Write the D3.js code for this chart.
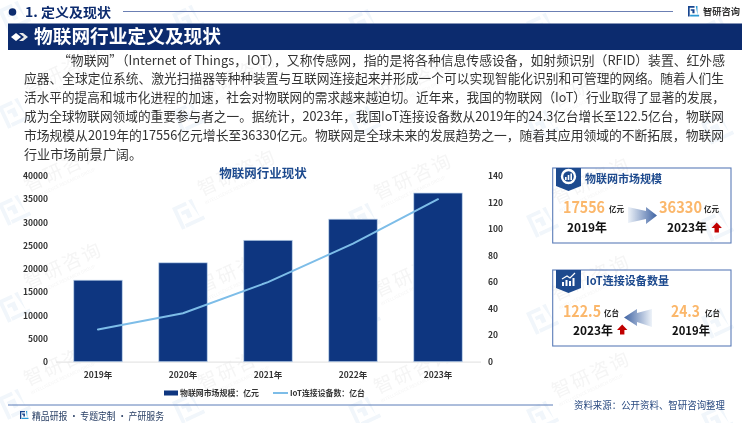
<!DOCTYPE html>
<html lang="zh-CN"><head><meta charset="utf-8">
<script src="https://cdnjs.cloudflare.com/ajax/libs/d3/7.8.5/d3.min.js"></script>
<style>html,body{margin:0;padding:0;background:#fff}svg{display:block}text{font-family:"Noto Sans CJK SC","Noto Sans",sans-serif}</style>
</head><body><svg id="c" width="750" height="423" viewBox="0 0 750 423"></svg>
<script>
const years=["2019年","2020年","2021年","2022年","2023年"];
const marketSize=[17556,21300,26150,30700,36330];
const iotDevices=[24.3,36.5,60,89,122.5];
const leftTicks=[0,5000,10000,15000,20000,25000,30000,35000,40000];
const rightTicks=[0,20,40,60,80,100,120,140];
const wide=s=>s.replace(/,/g,"\uFF0C").replace(/\(/g,"\uFF08").replace(/\)/g,"\uFF09").replace(/:/g,"\uFF1A");
const seriesNames=["物联网市场规模:亿元","IoT连接设备数:亿台"].map(wide);
const bodyLines=[
"“物联网”(Internet of Things,IOT),又称传感网,指的是将各种信息传感设备,如射频识别(RFID)装置、红外感",
"应器、全球定位系统、激光扫描器等种种装置与互联网连接起来并形成一个可以实现智能化识别和可管理的网络。随着人们生",
"活水平的提高和城市化进程的加速,社会对物联网的需求越来越迫切。近年来,我国的物联网(IoT)行业取得了显著的发展,",
"成为全球物联网领域的重要参与者之一。据统计,2023年,我国IoT连接设备数从2019年的24.3亿台增长至122.5亿台,物联网",
"市场规模从2019年的17556亿元增长至36330亿元。物联网是全球未来的发展趋势之一,随着其应用领域的不断拓展,物联网",
"行业市场前景广阔。"].map(wide);
const bodyX=[58,24,24,24,24,24], bodyW=[667,700,701,700,700,118], bodyY=[64.5,83,102,121,139.5,158.5];

const navy="#0c2b6e",barBlue="#0e3680",lineBlue="#7dbde8",frame="#5b7cb8",orange="#fbb76b";
const svg=d3.select("#c");
const defs=svg.append("defs");
function grad(id,x1,x2){const g=defs.append("linearGradient").attr("id",id).attr("x1",x1).attr("x2",x2).attr("y1",0).attr("y2",0);
 g.append("stop").attr("offset",0).attr("stop-color","#eef3f9");g.append("stop").attr("offset",1).attr("stop-color","#3f63a3");}
grad("gr",0,1);grad("gl",1,0);

function txt(s,x,y,size,fill,weight,anchor,len){const t=svg.append("text").attr("x",x).attr("y",y).attr("font-size",size).attr("fill",fill).attr("font-weight",weight||400).attr("text-anchor",anchor||"start").text(s);
 if(len)t.attr("textLength",len).attr("lengthAdjust","spacingAndGlyphs");return t;}

// watermarks
const wmLayer=svg.append("g").attr("opacity",.5);
function logoMark(g,s,c1,c2){
 g.append("path").attr("d",`M0 0H${s*.62}V${s*.16}H${s*.16}V${s}H0Z`).attr("fill",c1);
 g.append("path").attr("d",`M${s*.26} ${s*.3}H${s*.62}V${s*.68}H${s*.42}V${s*.46}H${s*.26}Z`).attr("fill",c1);
 g.append("path").attr("d",`M${s*.74} 0H${s*.9}V${s*.84}H${s*.2}V${s}H${s*1.06}V${s*.84}H${s*.9}Z`).attr("fill",c2);
}
const wmX=[-2,172,348,526,701],wmY=[10,107,204,301,398];
wmY.forEach((y,j)=>wmX.forEach((x,i)=>{
 const g=wmLayer.append("g").attr("transform",`translate(${x},${y+i*4}) rotate(-25)`);
 logoMark(g,24,"#e3edf6","#e3edf6");
 if(j>0&&i<4){
  g.append("text").attr("x",32).attr("y",2).attr("font-size",19).attr("fill","#ebebeb").attr("letter-spacing",2).text("智研咨询");
  g.append("text").attr("x",32).attr("y",11).attr("font-size",4.5).attr("fill","#ebebeb").text("INTELLIGENCE RESEARCH GROUP");
 }
}));

// header
svg.append("circle").attr("cx",12.5).attr("cy",12).attr("r",3.8).attr("fill",navy);
txt("1. 定义及现状",25,17,13,navy,700,"start",86);
svg.append("line").attr("x1",123).attr("x2",673).attr("y1",11.5).attr("y2",11.5).attr("stroke","#6b7fb3").attr("stroke-width",1);
logoMark(svg.append("g").attr("transform","translate(688,6)"),10.5,"#17458f","#2b9ad6");
txt("智研咨询",703,15,9.5,"#333",700,"start",37);
svg.append("rect").attr("x",8).attr("y",23.5).attr("width",734).attr("height",26.5).attr("fill",navy);
svg.append("path").attr("d","M11 37l5-4 5 4-5 4Z").attr("fill","#fff");
svg.append("path").attr("d","M19 33h4l5 4-5 4h-4l5-4Z").attr("fill","#e8e8e8");
txt("物联网行业定义及现状",34,43,18.7,"#fff",700,"start",187);

// body
bodyLines.forEach((l,i)=>txt(l,bodyX[i],bodyY[i],13,"#333",400,"start",bodyW[i]));

// chart
const x=d3.scaleBand().domain(years).range([55.5,480.5]).paddingInner(.43).paddingOuter(.215);
const yL=d3.scaleLinear().domain([0,40000]).range([361.7,176]);
const yR=d3.scaleLinear().domain([0,140]).range([361.7,176]);
txt("物联网行业现状",263,178,12.5,"#1d4a8e",700,"middle");

const axL=svg.append("g").attr("transform","translate(51,0)").call(d3.axisLeft(yL).tickValues(leftTicks).tickSize(0).tickPadding(3).tickFormat(d3.format("d")));
const axR=svg.append("g").attr("transform","translate(485,0)").call(d3.axisRight(yR).tickValues(rightTicks).tickSize(0).tickPadding(3));
const axB=svg.append("g").attr("transform","translate(0,361.7)").call(d3.axisBottom(x).tickSize(0).tickPadding(10));
[axL,axR].forEach(a=>a.select(".domain").remove());
axB.select(".domain").attr("stroke","#e6e6e6").attr("stroke-width",1.2);
[axL,axR,axB].forEach(a=>a.selectAll("text").attr("font-size",8.5).attr("font-weight",700).attr("fill","#333").style("font-family",'"Noto Sans CJK SC"'));

svg.append("g").selectAll("rect").data(marketSize).join("rect")
 .attr("x",(d,i)=>x(years[i])).attr("width",x.bandwidth())
 .attr("y",d=>yL(d)).attr("height",d=>yL(0)-yL(d))
 .attr("fill",barBlue).attr("stroke","#bcd3ea").attr("stroke-width",.7);
const cx=i=>x(years[i])+x.bandwidth()/2;
svg.append("path").datum(iotDevices).attr("fill","none").attr("stroke",lineBlue).attr("stroke-width",2).attr("stroke-linecap","round")
 .attr("d",d3.line().x((d,i)=>cx(i)).y(d=>yR(d)));

// legend
svg.append("rect").attr("x",164).attr("y",390.5).attr("width",14).attr("height",5).attr("fill",barBlue);
txt(seriesNames[0],180,396,8,"#333",700,"start",79);
svg.append("line").attr("x1",273).attr("x2",288).attr("y1",393).attr("y2",393).attr("stroke",lineBlue).attr("stroke-width",2);
txt(seriesNames[1],290,396,8,"#333",700,"start",75);

// footer
svg.append("line").attr("x1",8).attr("x2",553).attr("y1",405).attr("y2",405).attr("stroke",frame).attr("stroke-width",1);
logoMark(svg.append("g").attr("transform","translate(20,411)"),8,"#17458f","#2b9ad6");
txt("精品研报 · 专题定制 · 产研服务",32,420,10,"#2a4066",400,"start",132);
txt(wide("资料来源:公开资料、智研咨询整理"),574,409,10,"#2a4a80",400,"start",151);

// cards
function card(top,h,title,titleLen,titleX){
 svg.append("rect").attr("x",552.7).attr("y",top).attr("width",178.3).attr("height",h).attr("fill","none").attr("stroke",frame).attr("stroke-width",1.1);
 svg.append("path").attr("d",`M556 ${top}H581V${top+18}L568.5 ${top+23}L556 ${top+18}Z`).attr("fill","#1d4a8e");
 txt(title,titleX,top+15,11,"#1d4a8e",700,"start",titleLen);
}
card(168,75,"物联网市场规模",77,585);
card(270,76,"IoT连接设备数量",83,586);
// tab icons
svg.append("circle").attr("cx",568.5).attr("cy",176.5).attr("r",6.5).attr("fill","none").attr("stroke","#fff").attr("stroke-width",2.4);
svg.append("path").attr("d","M565 180v-3h1.6v3ZM567.7 180v-5h1.6v5ZM570.4 180v-6.5h1.6v6.5Z").attr("fill","#fff");
svg.append("path").attr("d","M562 286v-4h2v4ZM565.5 286v-6h2v6ZM569 286v-5h2v5ZM572.5 286v-8h2v8Z").attr("fill","#fff");
svg.append("path").attr("d","M562 279l5-3 3 2 5-5").attr("fill","none").attr("stroke","#fff").attr("stroke-width",1.2);

const kpiMarket=[17556,36330],kpiDevice=[122.5,24.3];
const kpiYears=["2019年","2023年","2023年","2019年"];
const kpiUnits=["亿元","亿台"];
txt(kpiMarket[0],563,213,15.5,orange,700,"start",42);
txt(kpiUnits[0],609,212,7.5,"#222",700);
txt(kpiYears[0],567,232,12,"#111",700,"start",40);
txt(kpiMarket[1],659,213,15.5,orange,700,"start",43);
txt(kpiUnits[0],704,212,7.5,"#222",700);
txt(kpiYears[1],667,232,12,"#111",700,"start",40);
txt(kpiDevice[0].toFixed(1),563,317,15.5,orange,700,"start",38);
txt(kpiUnits[1],604,316,7.5,"#222",700);
txt(kpiYears[2],573,334.5,12,"#111",700,"start",40);
txt(kpiDevice[1].toFixed(1),671,317,15.5,orange,700,"start",29);
txt(kpiUnits[1],705,316,7.5,"#222",700);
txt(kpiYears[3],672,334.5,12,"#111",700,"start",38);
// arrows
svg.append("path").attr("d","M628 207L646 211V207L657 215.5L646 224V219L628 223Z").attr("fill","url(#gr)");
svg.append("path").attr("d","M652 309L637 313V309L624 317.5L637 326V322L652 327Z").attr("fill","url(#gl)");
const up="M0 5.5L5.2 0L10.4 5.5H7.4V10H3V5.5Z";
svg.append("path").attr("d",up).attr("transform","translate(711.5,222.5)").attr("fill","#c00000");
svg.append("path").attr("d",up).attr("transform","translate(617,324.5)").attr("fill","#c00000");
</script></body></html>
